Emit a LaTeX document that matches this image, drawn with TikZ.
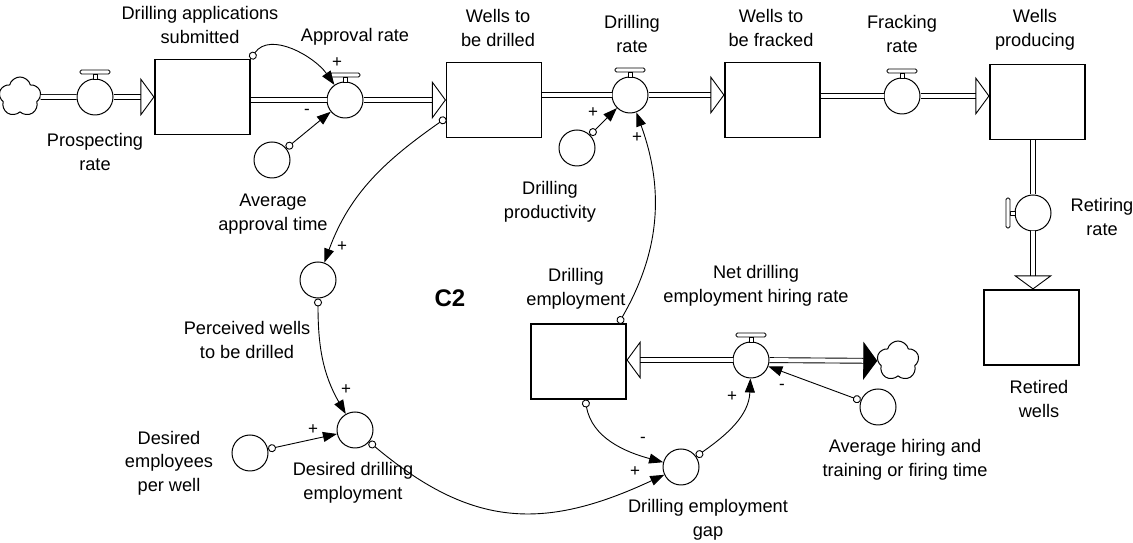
\documentclass[tikz,border=0pt]{standalone}
\usepackage{fontspec}
\setmainfont{Liberation Sans}
\usetikzlibrary{arrows.meta, shapes.symbols, calc}
\newcommand{\lblfont}{\fontsize{18.2}{23.5}\selectfont}
\newcommand{\tap}[2]{%
  \begin{scope}[shift={(#1)}, rotate=#2]
    \draw[line width=0.8pt, fill=white] (-2,18) rectangle (2,23);
    \draw[line width=0.8pt, fill=white, rounded corners=1.5pt] (-15,23) rectangle (15,27);
  \end{scope}}

\tikzset{
  stockbox/.style={draw, line width=1.1pt, minimum width=95pt, minimum height=75pt, inner sep=0pt},
  valvecirc/.style={draw, circle, line width=1pt, minimum size=36pt, inner sep=0pt, fill=white},
  auxcirc/.style={valvecirc},
  cloudy/.style={draw, cloud, cloud puffs=5, aspect=1, minimum width=42pt, minimum height=40pt, inner sep=0pt, line width=1pt},
  flowpipe/.style={line width=0.9pt, double=white, double distance=4pt},
  flowhead/.style={-{Triangle[open, length=14pt, width=38pt]}},
  link/.style={line width=0.9pt, {Circle[open, length=8pt, width=8pt, fill=white]}-{Triangle[length=14pt, width=10pt]}},
  lbl/.style={align=center, font=\lblfont, inner sep=0pt},
  sign/.style={font=\fontsize{17}{17}\selectfont, inner sep=0pt}
}

\begin{document}
\begin{tikzpicture}[x=1pt, y=1pt]
  \useasboundingbox (0,0) rectangle (1133,543);

  \node[cloudy] (cl1) at (20,446) {};
  \node[valvecirc] (prate) at (95,446) {};
  \node[stockbox] (dapp) at (202.5,446) {};
  \node[valvecirc] (arate) at (345,443) {};
  \node[stockbox] (wtbd) at (494,443) {};
  \node[valvecirc] (drate) at (630,448) {};
  \node[stockbox] (wtbf) at (772.5,443) {};
  \node[valvecirc] (frate) at (902,447) {};
  \node[stockbox] (wprod) at (1037.5,441) {};
  \node[valvecirc] (rret) at (1033,330) {};
  \node[stockbox] (retired) at (1031.5,215.5) {};
  \node[stockbox] (demp) at (578.5,181.5) {};
  \node[valvecirc] (nhire) at (751,183) {};
  \node[cloudy] (cl2) at (898,182) {};

  \node[auxcirc] (aat) at (272,383) {};
  \node[auxcirc] (dprod) at (577,395) {};
  \node[auxcirc] (pwd) at (318,263) {};
  \node[auxcirc] (dde) at (355,113) {};
  \node[auxcirc] (depw) at (250,90) {};
  \node[auxcirc] (gap) at (681,76) {};
  \node[auxcirc] (ahire) at (878,136) {};

  \tap{prate}{0}
  \tap{arate}{0}
  \tap{drate}{0}
  \tap{frate}{0}
  \tap{nhire}{0}
  \tap{rret}{90}

  \draw[flowpipe] (cl1) -- (prate);
  \draw[flowpipe, flowhead] (prate) -- (dapp.west |- prate);
  \draw[flowpipe] (dapp.east |- arate) -- (arate);
  \draw[flowpipe, flowhead] (arate) -- (arate -| wtbd.west);
  \draw[flowpipe] (wtbd.east |- drate) -- (drate);
  \draw[flowpipe, flowhead] (drate) -- (drate -| wtbf.west);
  \draw[flowpipe] (wtbf.east |- frate) -- (frate);
  \draw[flowpipe, flowhead] (frate) -- (frate -| wprod.west);
  \draw[flowpipe] (wprod.south -| rret) -- (rret);
  \draw[flowpipe, flowhead] (rret) -- (rret |- retired.north);
  \draw[flowpipe, flowhead] (nhire) -- (nhire -| demp.east);
  \draw[flowpipe, -{Triangle[length=14pt, width=38pt]}] (nhire) -- (cl2);

  \draw[link] (dapp.north east) to[out=55, in=125] (arate);
  \draw[link] (aat) -- (arate);
  \draw[link] ([yshift=-18pt]wtbd.west) to[out=215, in=70] (pwd);
  \draw[link] (pwd) to[out=-90, in=120] (dde);
  \draw[link] (depw) -- (dde);
  \draw[link] (dde) to[out=-40, in=205, looseness=1.15] (gap);
  \draw[link] (demp) to[out=-80, in=165] (gap);
  \draw[link] (gap) to[out=35, in=-92] (nhire);
  \draw[link] (ahire) -- (nhire);
  \draw[link] ([xshift=-8pt]demp.north east) to[out=60, in=-70] (drate);
  \draw[link] (dprod) -- (drate);

  \node[sign] (s1) at (337,480) {+};
  \node[sign] (s2) at (307,431) {-};
  \node[sign] (s3) at (342,296) {+};
  \node[sign] (s4) at (346,153) {+};
  \node[sign] (s5) at (313,113) {+};
  \node[sign] (s6) at (635,71) {+};
  \node[sign] (s7) at (643,103) {-};
  \node[sign] (s8) at (732,146) {+};
  \node[sign] (s9) at (782,156) {-};
  \node[sign] (s10) at (637,405) {+};
  \node[sign] (s11) at (593,430) {+};

  \node[lbl] (ldapp) at (200,518) {Drilling applications\\submitted};
  \node[lbl] (larate) at (355,506) {Approval rate};
  \node[lbl] (lprate) at (95,391) {Prospecting\\rate};
  \node[lbl] (laat) at (273,329) {Average\\approval time};
  \node[lbl] (lwtbd) at (498,515) {Wells to\\be drilled};
  \node[lbl] (ldrate) at (632,509) {Drilling\\rate};
  \node[lbl] (lwtbf) at (771,515) {Wells to\\be fracked};
  \node[lbl] (lfrate) at (902,509) {Fracking\\rate};
  \node[lbl] (lwprod) at (1035,513) {Wells\\producing};
  \node[lbl] (lrret) at (1102,326) {Retiring\\rate};
  \node[lbl] (lretired) at (1039,144) {Retired\\wells};
  \node[lbl] (ldprod) at (550,341) {Drilling\\productivity};
  \node[lbl, font=\fontsize{24}{24}\selectfont\bfseries] (lc2) at (450,245) {C2};
  \node[lbl] (ldemp) at (576,254) {Drilling\\employment};
  \node[lbl] (lnhire) at (756,257) {Net drilling\\employment hiring rate};
  \node[lbl] (lpwd) at (247,203) {Perceived wells\\to be drilled};
  \node[lbl] (ldepw) at (169,80) {Desired\\employees\\per well};
  \node[lbl] (ldde) at (353,60) {Desired drilling\\employment};
  \node[lbl] (lahire) at (905,83) {Average hiring and\\training or firing time};
  \node[lbl] (lgap) at (708,23) {Drilling employment\\gap};
\end{tikzpicture}
\end{document}
